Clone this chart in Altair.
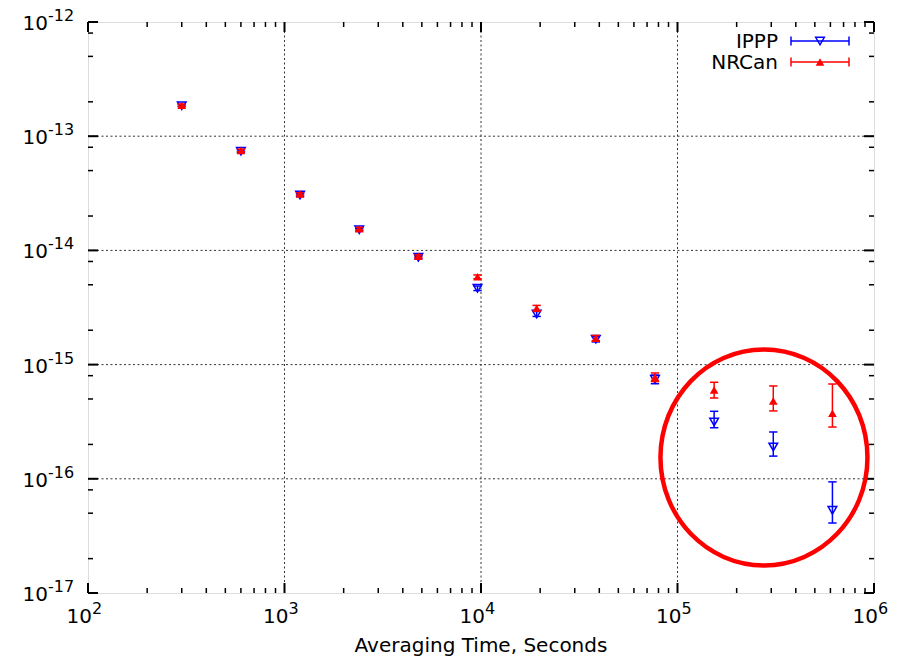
import altair as alt
import pandas as pd

# ---------------- data ----------------
tau = [300, 600, 1200, 2400, 4800, 9600, 19200, 38400, 76800, 153600, 307200, 614400]

ippp = [1.85e-13, 7.4e-14, 3.05e-14, 1.52e-14, 8.7e-15, 4.66e-15, 2.77e-15, 1.67e-15, 7.43e-16, 3.15e-16, 1.9e-16, 5.3e-17]
ippp_lo = [1.81e-13, 7.2e-14, 2.97e-14, 1.48e-14, 8.45e-15, 4.45e-15, 2.64e-15, 1.58e-15, 6.8e-16, 2.8e-16, 1.58e-16, 4.1e-17]
ippp_hi = [1.89e-13, 7.6e-14, 3.13e-14, 1.56e-14, 8.95e-15, 4.87e-15, 2.92e-15, 1.76e-15, 8.1e-16, 3.9e-16, 2.57e-16, 9.4e-17]

nrcan = [1.87e-13, 7.5e-14, 3.12e-14, 1.55e-14, 8.9e-15, 5.87e-15, 3.11e-15, 1.7e-15, 7.74e-16, 6.0e-16, 4.8e-16, 3.75e-16]
nrcan_lo = [1.83e-13, 7.3e-14, 3.04e-14, 1.51e-14, 8.65e-15, 5.65e-15, 2.95e-15, 1.62e-15, 7.1e-16, 5.1e-16, 3.93e-16, 2.84e-16]
nrcan_hi = [1.91e-13, 7.7e-14, 3.2e-14, 1.59e-14, 9.15e-15, 6.1e-15, 3.3e-15, 1.8e-15, 8.45e-16, 7.0e-16, 6.5e-16, 6.76e-16]

series = ["IPPP", "NRCan"]

x_decades = [1e2, 1e3, 1e4, 1e5, 1e6]
x_exps = ["2", "3", "4", "5", "6"]
y_decades = [1e-17, 1e-16, 1e-15, 1e-14, 1e-13, 1e-12]
y_exps = ["-17", "-16", "-15", "-14", "-13", "-12"]
x_minor = [m * 10.0 ** e for e in range(2, 6) for m in range(2, 10)]
y_minor = [m * 10.0 ** e for e in range(-17, -12) for m in (2, 5, 8)]

x_title = "Averaging Time, Seconds"

# highlighted region (ellipse centre)
circle_x = [2.754e5]
circle_y = [1.537e-16]

# ---------------- styling ----------------
COLORS = {"IPPP": "#0000ff", "NRCan": "#ff0000"}
SHAPES = {"IPPP": "triangle-down", "NRCan": "triangle-up"}
FILLED = {"IPPP": False, "NRCan": True}
FONT = "DejaVu Sans"
W, H = 786, 571

xs = alt.Scale(type="log", domain=[1e2, 1e6], nice=False)
ys = alt.Scale(type="log", domain=[1e-17, 1e-12], nice=False)

def X(field):
    return alt.X(field, type="quantitative", scale=xs, axis=None)

def Y(field):
    return alt.Y(field, type="quantitative", scale=ys, axis=None)

layers = []

# grid (major decades only, dotted)
gx = pd.DataFrame({"v": x_decades[1:-1]})
gy = pd.DataFrame({"v": y_decades[1:-1]})
grid_style = dict(color="#333333", strokeWidth=1, strokeDash=[2, 2.5])
layers.append(alt.Chart(gx).mark_rule(**grid_style).encode(x=X("v"), y=alt.value(0), y2=alt.value(H)))
layers.append(alt.Chart(gy).mark_rule(**grid_style).encode(y=Y("v"), x=alt.value(0), x2=alt.value(W)))

# inward ticks on all four sides
dxM = pd.DataFrame({"v": x_decades})
dxm = pd.DataFrame({"v": x_minor})
dyM = pd.DataFrame({"v": y_decades})
dym = pd.DataFrame({"v": y_minor})
for df, ln, sw in [(dxM, 10, 2), (dxm, 5, 1.5)]:
    layers.append(alt.Chart(df).mark_rule(color="black", strokeWidth=sw).encode(x=X("v"), y=alt.value(H), y2=alt.value(H - ln)))
    layers.append(alt.Chart(df).mark_rule(color="black", strokeWidth=sw).encode(x=X("v"), y=alt.value(0), y2=alt.value(ln)))
for df, ln, sw in [(dyM, 10, 2), (dym, 5, 1.5)]:
    layers.append(alt.Chart(df).mark_rule(color="black", strokeWidth=sw).encode(y=Y("v"), x=alt.value(0), x2=alt.value(ln)))
    layers.append(alt.Chart(df).mark_rule(color="black", strokeWidth=sw).encode(y=Y("v"), x=alt.value(W), x2=alt.value(W - ln)))

# tick labels (10 with superscript exponent)
xl = pd.DataFrame({"v": x_decades, "e": x_exps})
yl = pd.DataFrame({"v": y_decades, "e": y_exps})
layers.append(alt.Chart(xl).mark_text(font=FONT, fontSize=20, align="right", baseline="alphabetic", dx=4, color="black")
              .encode(x=X("v"), y=alt.value(H + 30), text=alt.value("10")))
layers.append(alt.Chart(xl).mark_text(font=FONT, fontSize=16, align="left", baseline="alphabetic", dx=4, color="black")
              .encode(x=X("v"), y=alt.value(H + 20.5), text="e:N"))
layers.append(alt.Chart(yl).mark_text(font=FONT, fontSize=20, align="right", baseline="middle", dy=2, color="black")
              .encode(y=Y("v"), x=alt.value(-40), text=alt.value("10")))
layers.append(alt.Chart(yl).mark_text(font=FONT, fontSize=16, align="left", baseline="alphabetic", dy=-1, color="black")
              .encode(y=Y("v"), x=alt.value(-40), text="e:N"))

# axis title
layers.append(alt.Chart(pd.DataFrame({"t": [x_title]})).mark_text(font=FONT, fontSize=20, align="center", baseline="alphabetic", color="black")
              .encode(x=alt.value(W / 2), y=alt.value(H + 59), text="t:N"))

# data: error bars + markers
CAP = "M-1,0L1,0"
vals = {"IPPP": (ippp, ippp_lo, ippp_hi), "NRCan": (nrcan, nrcan_lo, nrcan_hi)}
for s in series:
    v, lo, hi = vals[s]
    df = pd.DataFrame({"tau": tau, "v": v, "lo": lo, "hi": hi})
    c = COLORS[s]
    base = alt.Chart(df)
    layers.append(base.mark_rule(color=c, strokeWidth=1.5).encode(x=X("tau"), y=Y("lo"), y2="hi:Q"))
    layers.append(base.mark_point(shape=CAP, size=70, color=c, strokeWidth=1.5, filled=False, opacity=1).encode(x=X("tau"), y=Y("lo")))
    layers.append(base.mark_point(shape=CAP, size=70, color=c, strokeWidth=1.5, filled=False, opacity=1).encode(x=X("tau"), y=Y("hi")))
    layers.append(base.mark_point(shape=SHAPES[s], size=75, color=c, strokeWidth=1.5, filled=FILLED[s], opacity=1).encode(x=X("tau"), y=Y("v")))

# legend (label on the left, sample on the right, gnuplot style)
for i, s in enumerate(series):
    c = COLORS[s]
    yy = 19 + 21 * i
    one = alt.Chart(pd.DataFrame({"label": [s]}))
    layers.append(one.mark_text(font=FONT, fontSize=20, align="right", baseline="middle", dy=1, color="black")
                  .encode(x=alt.value(690), y=alt.value(yy), text="label:N"))
    layers.append(one.mark_rule(color=c, strokeWidth=1.5).encode(x=alt.value(703), x2=alt.value(761), y=alt.value(yy)))
    layers.append(one.mark_rule(color=c, strokeWidth=1.5).encode(x=alt.value(703), y=alt.value(yy - 4.5), y2=alt.value(yy + 4.5)))
    layers.append(one.mark_rule(color=c, strokeWidth=1.5).encode(x=alt.value(761), y=alt.value(yy - 4.5), y2=alt.value(yy + 4.5)))
    layers.append(one.mark_point(shape=SHAPES[s], size=75, color=c, strokeWidth=1.5, filled=FILLED[s], opacity=1)
                  .encode(x=alt.value(732), y=alt.value(yy)))

# red ellipse highlighting the long averaging times
ELLIPSE = "M-1,0A1,1.043,0,1,1,1,0A1,1.043,0,1,1,-1,0Z"
layers.append(alt.Chart(pd.DataFrame({"x": circle_x, "y": circle_y}))
              .mark_point(shape=ELLIPSE, size=207 ** 2, filled=False, color="#ff0000", strokeWidth=4.5, opacity=1)
              .encode(x=X("x"), y=Y("y")))

chart = alt.layer(*layers).properties(
    width=W,
    height=H,
    padding={"left": 80, "top": 14, "right": 19, "bottom": 63},
    autosize=alt.AutoSizeParams(type="none"),
).configure_view(stroke="black", strokeWidth=2.5).configure(background="white")

chart.save("out.html", embed_options={"renderer": "svg", "actions": False})
